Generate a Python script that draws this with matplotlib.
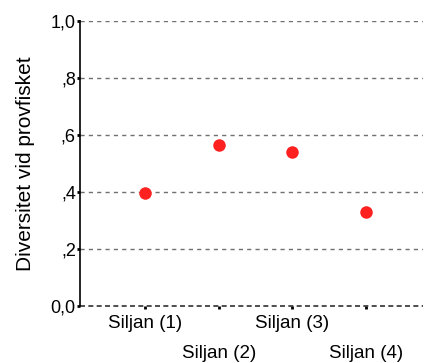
import matplotlib

matplotlib.use("Agg")
import matplotlib.pyplot as plt
from matplotlib.ticker import FuncFormatter

plt.rcParams["font.family"] = ["Liberation Sans", "DejaVu Sans"]

sites = ["Siljan (1)", "Siljan (2)", "Siljan (3)", "Siljan (4)"]
diversity = [0.397, 0.565, 0.541, 0.330]
yticks = [0.0, 0.2, 0.4, 0.6, 0.8, 1.0]


def swedish_fmt(v, _pos):
    s = f"{v:.1f}".replace(".", ",")
    # SPSS-style: drop leading zero except for 0 and 1
    if 0 < v < 1:
        s = s[1:]
    return s


fig = plt.figure(figsize=(4.24, 3.63), dpi=100)
ax = fig.add_axes([80 / 424, 1 - 305.6 / 363, 343 / 424, 284.6 / 363])

xs = list(range(1, len(sites) + 1))
ax.plot(xs, diversity, "o", color="#ff2020", markersize=9, markeredgewidth=0, zorder=3)

for t in yticks[1:]:
    ax.axhline(t, color="#707070", linestyle=(0, (3, 3)), linewidth=1.0, zorder=1)
ax.axhline(0, color="#303030", linestyle=(0, (3, 2)), linewidth=1.2, zorder=2, clip_on=False)

ax.set_xlim(0.118, 4.77)
ax.set_ylim(0, 1.0)
ax.set_yticks(yticks)
ax.yaxis.set_major_formatter(FuncFormatter(swedish_fmt))
ax.set_xticks(xs)
ax.set_xticklabels([])

for i, (x, name) in enumerate(zip(xs, sites)):
    offset = 18 if i % 2 == 0 else 48
    ax.annotate(name, (x, 0), xytext=(0, -offset), textcoords="offset pixels",
                ha="center", va="center", fontsize=13.5, annotation_clip=False)

for side in ["top", "right", "bottom"]:
    ax.spines[side].set_visible(False)
ax.spines["left"].set_linewidth(1.2)
ax.tick_params(axis="both", length=2, width=2, labelsize=13, pad=1)

ax.set_ylabel("Diversitet vid provfisket", fontsize=15, labelpad=11)

fig.savefig("out.png", dpi=100)
